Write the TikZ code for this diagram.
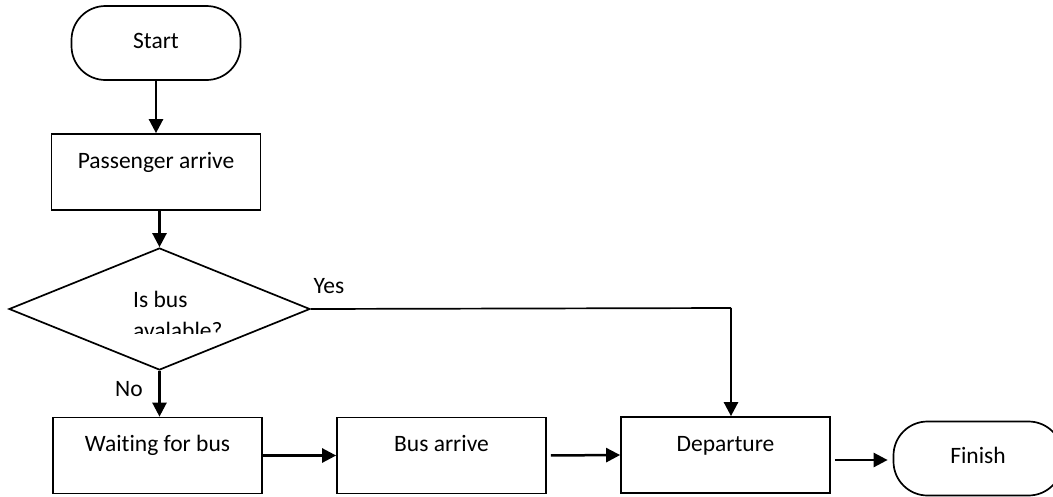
\documentclass[tikz,border=0pt]{standalone}
\usepackage{fontspec}
\setmainfont{Carlito}[Ligatures=NoCommon]
\usetikzlibrary{shapes.geometric,arrows.meta,calc}
\begin{document}
\begin{tikzpicture}[x=1pt,y=-1pt,
  every node/.style={font=\fontsize{23.5}{31}\selectfont, inner sep=0pt},
  box/.style={draw, line width=1.7pt, rectangle, minimum width=209pt, minimum height=76pt, text height=17pt, text depth=25pt},
  term/.style={draw, line width=1.7pt, rectangle, rounded corners=34pt, minimum width=169pt, minimum height=74pt, text height=15.1pt, text depth=5pt},
  decis/.style={draw, line width=1.7pt, diamond, minimum width=301pt, minimum height=122pt},
  arr/.style={line width=2.5pt, -{Triangle[length=14pt,width=14pt]}},
  thinline/.style={line width=1.7pt}
]
\useasboundingbox (0,0) rectangle (1053,496);
\fill[white] (0,0) rectangle (1053,496);

\node[term] (start) at (156,43) {Start};
\node[box] (pa) at (156,172) {Passenger arrive};
\node[decis] (d) at (159.5,309) {};
\begin{scope}
  \clip (0,0) rectangle (1053,333);
  \node[anchor=north west, align=left] (dtext) at (133,290.5) {Is bus\\avalable?};
\end{scope}
\node[box] (wait) at (157.5,455.5) {Waiting for bus};
\node[box] (bus) at (441.5,455.5) {Bus arrive};
\node[box] (dep) at (725.5,455) {Departure};
\node[term] (fin) at (978,458.5) {Finish};

\node[anchor=base] (yes) at (329,293) {Yes};
\node[anchor=base] (no) at (129,396) {No};

\coordinate (yc) at (731,308);

\draw[arr] (start.south) -- (start.south |- pa.north);
\draw[arr] (pa.south -| d.north) -- (d.north);
\draw[arr] (d.south) -- (d.south |- wait.north);
\draw[thinline] (d.east) -- (yc);
\draw[arr] (yc) -- (yc |- dep.north);
\draw[arr] (wait.east) -- (wait.east -| bus.west);
\draw[arr, shorten <=4pt] (bus.east) -- (dep.west);
\draw[arr, shorten <=4pt, shorten >=5pt] (dep.east |- 0,460) -- (fin.west |- 0,460);
\end{tikzpicture}
\end{document}
